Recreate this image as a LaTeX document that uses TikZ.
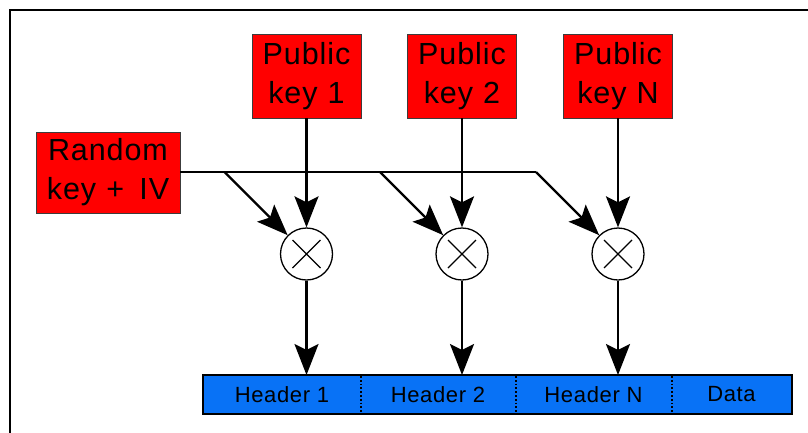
\documentclass[tikz,border=0pt]{standalone}
\usepackage{fontspec}
\setmainfont{Liberation Sans}[LetterSpace=3]
\usetikzlibrary{arrows.meta,positioning}
\definecolor{keyred}{RGB}{255,0,0}
\definecolor{barblue}{RGB}{8,114,246}
\definecolor{boxedge}{RGB}{60,60,60}
\tikzset{
  keybox/.style={draw=boxedge,line width=0.8pt,fill=keyred,inner sep=0pt,
    text width=#1,align=center,font=\fontsize{30.5}{39}\selectfont},
  keybox/.default=109pt,
  mixer/.style={circle,draw,line width=1.3pt,minimum size=52pt,inner sep=0pt,
    path picture={\draw[line width=1.3pt]
      ([shift={(-14pt,-14pt)}]path picture bounding box.center) --
      ([shift={(14pt,14pt)}]path picture bounding box.center)
      ([shift={(-14pt,14pt)}]path picture bounding box.center) --
      ([shift={(14pt,-14pt)}]path picture bounding box.center);}},
  seg/.style={inner sep=0pt,minimum height=39pt,font=\fontsize{22}{25}\selectfont},
  flow/.style={line width=2.4pt,-{Stealth[length=31pt,width=24pt,inset=6pt]}},
  wire/.style={line width=2.4pt}
}
\begin{document}
\begin{tikzpicture}[x=1pt,y=-1pt]
\useasboundingbox (0,0) rectangle (808,432);
% outer frame
\draw[line width=2.2pt] (10,450) -- (10,10) -- (830,10);

% key sources
\node[keybox,minimum height=84pt] (k1) at (306.5,76) {Public\\key 1};
\node[keybox,minimum height=84pt] (k2) at (462,76) {Public\\key 2};
\node[keybox,minimum height=84pt] (kN) at (618,76) {Public\\key N};
\node[keybox=144pt,minimum height=81pt] (rk) at (108,172.5) {Random\\key + \,IV};

% combiners
\node[mixer] (m1) at (306.5,254) {};
\node[mixer] (m2) at (462,254) {};
\node[mixer] (mN) at (618,254) {};

% output bar
\draw[fill=barblue,line width=1.5pt] (203,375) rectangle (792,414);
\node[seg] (h1) at (282,394.5) {Header 1};
\node[seg] (h2) at (438,394.5) {Header 2};
\node[seg] (hN) at (593.5,394.5) {Header N};
\node[seg] (hd) at (731.5,394.5) {Data};
\foreach \x in {361,516,672}
  \draw[line width=1.8pt,dotted] (\x,376) -- (\x,413);
\coordinate (t1) at (306.5,375);
\coordinate (t2) at (462,375);
\coordinate (tN) at (618,375);

% random key bus and branches
\coordinate (b1) at (224.5,172);
\coordinate (b2) at (380,172);
\coordinate (b3) at (536,172);
\draw[wire] (rk.east |- b1) -- (b3);
\draw[flow] (b1) -- (m1.135);
\draw[flow] (b2) -- (m2.135);
\draw[flow] (b3) -- (mN.135);

% public keys into combiners
\draw[flow] (k1) -- (m1);
\draw[flow] (k2) -- (m2);
\draw[flow] (kN) -- (mN);

% combiners into headers
\draw[flow] (m1) -- (t1);
\draw[flow] (m2) -- (t2);
\draw[flow] (mN) -- (tN);
\end{tikzpicture}
\end{document}
